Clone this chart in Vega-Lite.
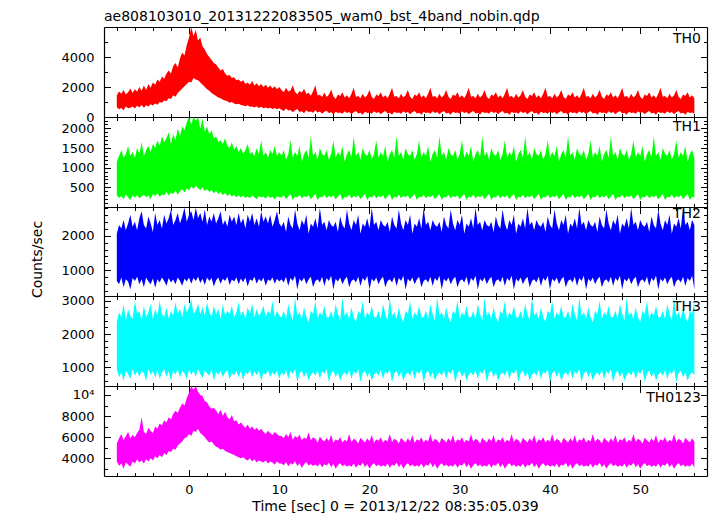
{
"$schema": "https://vega.github.io/schema/vega-lite/v6.json",
"background": "white",
"padding": {"left": 30, "top": 9, "right": 5, "bottom": 3},
"title": {"text": "ae808103010_20131222083505_wam0_bst_4band_nobin.qdp", "anchor": "start", "frame": "group", "offset": 3},
"config": {
 "font": "DejaVu Sans",
 "view": {"stroke": null},
 "title": {"font": "DejaVu Sans", "fontSize": 14, "fontWeight": "normal", "color": "#000"},
 "axis": {"labelFont": "DejaVu Sans", "labelFontSize": 13, "labelColor": "#000", "titleFont": "DejaVu Sans", "titleFontSize": 14, "titleFontWeight": "normal", "titleColor": "#000", "domainColor": "#000", "domainWidth": 1.2, "tickColor": "#000", "tickWidth": 1, "grid": false, "labelOverlap": false, "labelFlush": false}
},
"data": {"values": [
{"t":-8,"l0":650,"h0":1450,"l1":300,"h1":1150,"l2":700,"h2":2050,"l3":950,"h3":2350,"l4":3700,"h4":5400},
{"t":-7.75,"l0":520,"h0":1700,"l1":230,"h1":1300,"l2":600,"h2":2300,"l3":700,"h3":2650,"l4":3300,"h4":5900},
{"t":-7.5,"l0":600,"h0":1550,"l1":280,"h1":1450,"l2":800,"h2":2200,"l3":850,"h3":2500,"l4":3500,"h4":6300},
{"t":-7.25,"l0":450,"h0":1800,"l1":200,"h1":1250,"l2":520,"h2":2450,"l3":600,"h3":2900,"l4":3000,"h4":5700},
{"t":-7,"l0":700,"h0":1500,"l1":320,"h1":1350,"l2":750,"h2":2150,"l3":900,"h3":2400,"l4":3600,"h4":6100},
{"t":-6.75,"l0":580,"h0":1650,"l1":250,"h1":1550,"l2":680,"h2":2350,"l3":800,"h3":2750,"l4":3400,"h4":6500},
{"t":-6.5,"l0":620,"h0":1900,"l1":180,"h1":1300,"l2":450,"h2":2600,"l3":650,"h3":2550,"l4":3200,"h4":5900},
{"t":-6.25,"l0":700,"h0":1600,"l1":290,"h1":1400,"l2":780,"h2":2250,"l3":950,"h3":2450,"l4":3700,"h4":6200},
{"t":-6,"l0":560,"h0":1850,"l1":240,"h1":1250,"l2":700,"h2":2400,"l3":750,"h3":3000,"l4":3500,"h4":6000},
{"t":-5.75,"l0":750,"h0":1700,"l1":300,"h1":1500,"l2":820,"h2":2150,"l3":880,"h3":2600,"l4":3900,"h4":6400},
{"t":-5.5,"l0":640,"h0":2000,"l1":220,"h1":1350,"l2":600,"h2":2500,"l3":720,"h3":2700,"l4":3600,"h4":6700},
{"t":-5.25,"l0":800,"h0":1750,"l1":270,"h1":1650,"l2":750,"h2":2700,"l3":900,"h3":2400,"l4":3800,"h4":7900},
{"t":-5,"l0":620,"h0":2100,"l1":310,"h1":1300,"l2":520,"h2":2300,"l3":820,"h3":2850,"l4":3500,"h4":6500},
{"t":-4.75,"l0":780,"h0":1800,"l1":250,"h1":1450,"l2":800,"h2":2200,"l3":600,"h3":2500,"l4":3900,"h4":6300},
{"t":-4.5,"l0":700,"h0":2200,"l1":290,"h1":1550,"l2":680,"h2":2550,"l3":950,"h3":2650,"l4":3700,"h4":6900},
{"t":-4.25,"l0":850,"h0":1950,"l1":200,"h1":1400,"l2":600,"h2":2350,"l3":780,"h3":2900,"l4":4000,"h4":6600},
{"t":-4,"l0":760,"h0":2300,"l1":330,"h1":1600,"l2":770,"h2":2100,"l3":880,"h3":2450,"l4":3800,"h4":6400},
{"t":-3.75,"l0":900,"h0":2150,"l1":280,"h1":1500,"l2":500,"h2":2650,"l3":700,"h3":2750,"l4":4200,"h4":7000},
{"t":-3.5,"l0":820,"h0":2500,"l1":350,"h1":1700,"l2":750,"h2":2300,"l3":920,"h3":2550,"l4":4000,"h4":6800},
{"t":-3.25,"l0":1000,"h0":2350,"l1":260,"h1":1550,"l2":650,"h2":2450,"l3":650,"h3":3000,"l4":4300,"h4":7300},
{"t":-3,"l0":950,"h0":2700,"l1":320,"h1":1800,"l2":800,"h2":2200,"l3":850,"h3":2600,"l4":4100,"h4":7100},
{"t":-2.75,"l0":1100,"h0":2550,"l1":300,"h1":1650,"l2":700,"h2":2600,"l3":950,"h3":2500,"l4":4500,"h4":7600},
{"t":-2.5,"l0":1050,"h0":2900,"l1":380,"h1":1750,"l2":560,"h2":2350,"l3":720,"h3":2800,"l4":4300,"h4":7400},
{"t":-2.25,"l0":1250,"h0":3100,"l1":290,"h1":1900,"l2":780,"h2":2500,"l3":880,"h3":2450,"l4":4700,"h4":7900},
{"t":-2,"l0":1200,"h0":2900,"l1":360,"h1":1600,"l2":650,"h2":2750,"l3":600,"h3":2700,"l4":4600,"h4":7700},
{"t":-1.75,"l0":1450,"h0":3400,"l1":330,"h1":1850,"l2":740,"h2":2300,"l3":900,"h3":2550,"l4":4900,"h4":8200},
{"t":-1.5,"l0":1350,"h0":3600,"l1":420,"h1":1700,"l2":600,"h2":2450,"l3":780,"h3":2950,"l4":4800,"h4":8500},
{"t":-1.25,"l0":1600,"h0":3300,"l1":310,"h1":2000,"l2":800,"h2":2650,"l3":950,"h3":2600,"l4":5200,"h4":8300},
{"t":-1,"l0":1750,"h0":3900,"l1":400,"h1":1800,"l2":700,"h2":2350,"l3":700,"h3":2750,"l4":5400,"h4":8800},
{"t":-0.75,"l0":1900,"h0":4300,"l1":450,"h1":2050,"l2":560,"h2":2550,"l3":880,"h3":2500,"l4":5600,"h4":9200},
{"t":-0.5,"l0":2050,"h0":4100,"l1":370,"h1":1950,"l2":760,"h2":2800,"l3":820,"h3":2900,"l4":5900,"h4":9000},
{"t":-0.25,"l0":2200,"h0":4800,"l1":480,"h1":2150,"l2":680,"h2":2400,"l3":650,"h3":2650,"l4":6000,"h4":9700},
{"t":0,"l0":2350,"h0":5300,"l1":420,"h1":2290,"l2":800,"h2":2600,"l3":920,"h3":2800,"l4":6300,"h4":10200},
{"t":0.25,"l0":2300,"h0":6000,"l1":520,"h1":2100,"l2":620,"h2":2700,"l3":780,"h3":3050,"l4":6100,"h4":10850},
{"t":0.5,"l0":2600,"h0":5400,"l1":460,"h1":2290,"l2":780,"h2":2450,"l3":900,"h3":2600,"l4":6600,"h4":10500},
{"t":0.75,"l0":2500,"h0":5800,"l1":550,"h1":2200,"l2":700,"h2":2800,"l3":720,"h3":2700,"l4":6500,"h4":10850},
{"t":1,"l0":2450,"h0":5100,"l1":480,"h1":2290,"l2":820,"h2":2500,"l3":950,"h3":2900,"l4":6800,"h4":10300},
{"t":1.25,"l0":2300,"h0":5300,"l1":430,"h1":2000,"l2":640,"h2":2650,"l3":800,"h3":2600,"l4":6400,"h4":10000},
{"t":1.5,"l0":2150,"h0":4700,"l1":500,"h1":2250,"l2":760,"h2":2400,"l3":680,"h3":2800,"l4":6200,"h4":9900},
{"t":1.75,"l0":2000,"h0":4500,"l1":400,"h1":1900,"l2":580,"h2":2750,"l3":900,"h3":2550,"l4":6000,"h4":9400},
{"t":2,"l0":1850,"h0":4200,"l1":460,"h1":2050,"l2":800,"h2":2300,"l3":820,"h3":2950,"l4":5700,"h4":9300},
{"t":2.25,"l0":1750,"h0":4000,"l1":380,"h1":1850,"l2":700,"h2":2550,"l3":740,"h3":2650,"l4":5500,"h4":8900},
{"t":2.5,"l0":1600,"h0":3800,"l1":430,"h1":1950,"l2":780,"h2":2400,"l3":950,"h3":2500,"l4":5600,"h4":8700},
{"t":2.75,"l0":1500,"h0":3600,"l1":350,"h1":1750,"l2":540,"h2":2650,"l3":600,"h3":2850,"l4":5300,"h4":8800},
{"t":3,"l0":1400,"h0":3500,"l1":410,"h1":1800,"l2":720,"h2":2350,"l3":860,"h3":2600,"l4":5100,"h4":8500},
{"t":3.25,"l0":1300,"h0":3300,"l1":330,"h1":1650,"l2":800,"h2":2500,"l3":780,"h3":2750,"l4":5000,"h4":8200},
{"t":3.5,"l0":1250,"h0":3100,"l1":380,"h1":1700,"l2":620,"h2":2700,"l3":900,"h3":2450,"l4":4800,"h4":8600},
{"t":3.75,"l0":1150,"h0":3200,"l1":300,"h1":1600,"l2":760,"h2":2300,"l3":700,"h3":2900,"l4":4900,"h4":8000},
{"t":4,"l0":1100,"h0":2900,"l1":360,"h1":1750,"l2":700,"h2":2450,"l3":850,"h3":2550,"l4":4700,"h4":8400},
{"t":4.25,"l0":1050,"h0":2750,"l1":280,"h1":1550,"l2":820,"h2":2250,"l3":920,"h3":2700,"l4":4600,"h4":7900},
{"t":4.5,"l0":950,"h0":2800,"l1":330,"h1":1500,"l2":580,"h2":2600,"l3":640,"h3":2600,"l4":4500,"h4":7700},
{"t":4.75,"l0":1000,"h0":2600,"l1":270,"h1":1650,"l2":740,"h2":2400,"l3":820,"h3":2850,"l4":4400,"h4":8100},
{"t":5,"l0":900,"h0":2650,"l1":310,"h1":1450,"l2":680,"h2":2550,"l3":760,"h3":2500,"l4":4300,"h4":7500},
{"t":5.25,"l0":850,"h0":2450,"l1":250,"h1":1550,"l2":800,"h2":2300,"l3":900,"h3":2650,"l4":4200,"h4":7600},
{"t":5.5,"l0":880,"h0":2500,"l1":300,"h1":1400,"l2":600,"h2":2650,"l3":700,"h3":2950,"l4":4100,"h4":7200},
{"t":5.75,"l0":800,"h0":2350,"l1":240,"h1":1500,"l2":770,"h2":2350,"l3":880,"h3":2550,"l4":4000,"h4":7400},
{"t":6,"l0":760,"h0":2450,"l1":290,"h1":1350,"l2":660,"h2":2500,"l3":620,"h3":2700,"l4":4100,"h4":7100},
{"t":6.25,"l0":720,"h0":2200,"l1":230,"h1":1450,"l2":800,"h2":2200,"l3":850,"h3":2450,"l4":3900,"h4":6900},
{"t":6.5,"l0":780,"h0":2300,"l1":270,"h1":1600,"l2":540,"h2":2600,"l3":790,"h3":2800,"l4":3800,"h4":7200},
{"t":6.75,"l0":680,"h0":2150,"l1":220,"h1":1350,"l2":750,"h2":2400,"l3":930,"h3":2600,"l4":4000,"h4":6800},
{"t":7,"l0":700,"h0":2400,"l1":300,"h1":1400,"l2":700,"h2":2650,"l3":700,"h3":2900,"l4":3700,"h4":7000},
{"t":7.25,"l0":640,"h0":2100,"l1":250,"h1":1300,"l2":820,"h2":2300,"l3":880,"h3":2500,"l4":3900,"h4":6700},
{"t":7.5,"l0":720,"h0":2250,"l1":200,"h1":1500,"l2":620,"h2":2500,"l3":760,"h3":2750,"l4":3600,"h4":6900},
{"t":7.75,"l0":600,"h0":2050,"l1":280,"h1":1350,"l2":760,"h2":2250,"l3":900,"h3":2550,"l4":3800,"h4":6600},
{"t":8,"l0":680,"h0":2200,"l1":240,"h1":1700,"l2":680,"h2":2700,"l3":600,"h3":2650,"l4":3700,"h4":6800},
{"t":8.25,"l0":580,"h0":2000,"l1":270,"h1":1300,"l2":800,"h2":2400,"l3":840,"h3":2850,"l4":3600,"h4":6500},
{"t":8.5,"l0":640,"h0":2150,"l1":210,"h1":1400,"l2":560,"h2":2550,"l3":780,"h3":2500,"l4":3800,"h4":6300},
{"t":8.75,"l0":560,"h0":1950,"l1":290,"h1":1250,"l2":740,"h2":2350,"l3":920,"h3":2700,"l4":3500,"h4":6600},
{"t":9,"l0":620,"h0":2100,"l1":230,"h1":1450,"l2":700,"h2":2600,"l3":700,"h3":2600,"l4":3700,"h4":6400},
{"t":9.25,"l0":540,"h0":1900,"l1":260,"h1":1350,"l2":800,"h2":2250,"l3":860,"h3":3000,"l4":3600,"h4":6200},
{"t":9.5,"l0":600,"h0":2050,"l1":190,"h1":1550,"l2":620,"h2":2450,"l3":760,"h3":2500,"l4":3400,"h4":6500},
{"t":9.75,"l0":520,"h0":1850,"l1":280,"h1":1300,"l2":760,"h2":2700,"l3":900,"h3":2700,"l4":3700,"h4":6300},
{"t":10,"l0":580,"h0":2000,"l1":240,"h1":1400,"l2":680,"h2":2350,"l3":650,"h3":2550,"l4":3500,"h4":6100},
{"t":10.25,"l0":480,"h0":1800,"l1":250,"h1":1300,"l2":750,"h2":2250,"l3":850,"h3":2500,"l4":3500,"h4":6100},
{"t":10.5,"l0":400,"h0":1650,"l1":300,"h1":1450,"l2":650,"h2":2400,"l3":750,"h3":2700,"l4":3350,"h4":5900},
{"t":10.75,"l0":560,"h0":1950,"l1":200,"h1":1200,"l2":820,"h2":2100,"l3":920,"h3":2450,"l4":3650,"h4":6300},
{"t":11,"l0":440,"h0":1700,"l1":270,"h1":1350,"l2":550,"h2":2550,"l3":650,"h3":2900,"l4":3250,"h4":6000},
{"t":11.25,"l0":470,"h0":1770,"l1":330,"h1":1700,"l2":780,"h2":2300,"l3":880,"h3":2600,"l4":3520,"h4":6500},
{"t":11.5,"l0":320,"h0":2120,"l1":180,"h1":1250,"l2":700,"h2":2200,"l3":800,"h3":2400,"l4":3420,"h4":5750},
{"t":11.75,"l0":450,"h0":1670,"l1":260,"h1":1400,"l2":850,"h2":2750,"l3":950,"h3":3100,"l4":3720,"h4":6100},
{"t":12,"l0":540,"h0":1520,"l1":240,"h1":1300,"l2":450,"h2":2350,"l3":550,"h3":2550,"l4":3270,"h4":5950},
{"t":12.25,"l0":340,"h0":1740,"l1":310,"h1":1550,"l2":760,"h2":2150,"l3":820,"h3":2650,"l4":3540,"h4":6220},
{"t":12.5,"l0":390,"h0":1640,"l1":220,"h1":1150,"l2":680,"h2":2450,"l3":900,"h3":2450,"l4":3090,"h4":5720},
{"t":12.75,"l0":250,"h0":1890,"l1":280,"h1":1350,"l2":800,"h2":2300,"l3":700,"h3":2800,"l4":3440,"h4":5970},
{"t":13,"l0":450,"h0":1540,"l1":250,"h1":1450,"l2":600,"h2":2600,"l3":860,"h3":2500,"l4":3640,"h4":5820},
{"t":13.25,"l0":340,"h0":1610,"l1":300,"h1":1250,"l2":740,"h2":2050,"l3":600,"h3":2350,"l4":3310,"h4":6450},
{"t":13.5,"l0":370,"h0":1410,"l1":200,"h1":1800,"l2":820,"h2":2350,"l3":780,"h3":2700,"l4":3460,"h4":5700},
{"t":13.75,"l0":290,"h0":1710,"l1":270,"h1":1300,"l2":520,"h2":2250,"l3":850,"h3":2600,"l4":3260,"h4":6000},
{"t":14,"l0":450,"h0":2110,"l1":330,"h1":1400,"l2":700,"h2":2500,"l3":750,"h3":3000,"l4":3410,"h4":5850},
{"t":14.25,"l0":300,"h0":1430,"l1":180,"h1":1200,"l2":750,"h2":2200,"l3":920,"h3":2450,"l4":3230,"h4":5480},
{"t":14.5,"l0":370,"h0":1480,"l1":260,"h1":1500,"l2":650,"h2":2800,"l3":650,"h3":2650,"l4":3530,"h4":6030},
{"t":14.75,"l0":220,"h0":1330,"l1":240,"h1":1350,"l2":820,"h2":2300,"l3":880,"h3":2550,"l4":3130,"h4":5780},
{"t":15,"l0":350,"h0":1630,"l1":310,"h1":1300,"l2":550,"h2":2400,"l3":800,"h3":2850,"l4":3430,"h4":5580},
{"t":15.25,"l0":420,"h0":1340,"l1":220,"h1":1450,"l2":780,"h2":2150,"l3":950,"h3":2500,"l4":3310,"h4":5930},
{"t":15.5,"l0":260,"h0":1490,"l1":280,"h1":1200,"l2":700,"h2":2450,"l3":550,"h3":2500,"l4":3610,"h4":5630},
{"t":15.75,"l0":310,"h0":1840,"l1":250,"h1":1350,"l2":850,"h2":2300,"l3":820,"h3":2700,"l4":3160,"h4":6230},
{"t":16,"l0":170,"h0":1390,"l1":300,"h1":1700,"l2":450,"h2":2250,"l3":900,"h3":2450,"l4":3460,"h4":5480},
{"t":16.25,"l0":350,"h0":1200,"l1":200,"h1":1250,"l2":760,"h2":2400,"l3":700,"h3":2900,"l4":3000,"h4":5800},
{"t":16.5,"l0":270,"h0":1500,"l1":270,"h1":1400,"l2":680,"h2":2100,"l3":860,"h3":2600,"l4":3350,"h4":5650},
{"t":16.75,"l0":300,"h0":1400,"l1":330,"h1":1300,"l2":800,"h2":2550,"l3":600,"h3":2400,"l4":3550,"h4":6000},
{"t":17,"l0":220,"h0":1650,"l1":180,"h1":1550,"l2":600,"h2":2300,"l3":780,"h3":3100,"l4":3250,"h4":5500},
{"t":17.25,"l0":380,"h0":1300,"l1":260,"h1":1150,"l2":740,"h2":2200,"l3":850,"h3":2550,"l4":3400,"h4":5750},
{"t":17.5,"l0":260,"h0":1450,"l1":240,"h1":1350,"l2":820,"h2":2750,"l3":750,"h3":2650,"l4":3200,"h4":5600},
{"t":17.75,"l0":330,"h0":1250,"l1":310,"h1":1450,"l2":520,"h2":2350,"l3":920,"h3":2450,"l4":3350,"h4":6300},
{"t":18,"l0":180,"h0":1550,"l1":220,"h1":1250,"l2":700,"h2":2150,"l3":650,"h3":2800,"l4":3200,"h4":5550},
{"t":18.25,"l0":310,"h0":1950,"l1":280,"h1":1800,"l2":750,"h2":2450,"l3":880,"h3":2500,"l4":3500,"h4":5850},
{"t":18.5,"l0":400,"h0":1350,"l1":250,"h1":1300,"l2":650,"h2":2300,"l3":800,"h3":2350,"l4":3100,"h4":5700},
{"t":18.75,"l0":240,"h0":1400,"l1":300,"h1":1400,"l2":820,"h2":2600,"l3":950,"h3":2700,"l4":3400,"h4":5400},
{"t":19,"l0":290,"h0":1250,"l1":200,"h1":1200,"l2":550,"h2":2050,"l3":550,"h3":2600,"l4":3300,"h4":5950},
{"t":19.25,"l0":150,"h0":1550,"l1":270,"h1":1500,"l2":780,"h2":2350,"l3":820,"h3":3000,"l4":3600,"h4":5700},
{"t":19.5,"l0":350,"h0":1300,"l1":330,"h1":1350,"l2":700,"h2":2250,"l3":900,"h3":2450,"l4":3150,"h4":5500},
{"t":19.75,"l0":270,"h0":1450,"l1":180,"h1":1300,"l2":850,"h2":2500,"l3":700,"h3":2650,"l4":3450,"h4":5900},
{"t":20,"l0":300,"h0":1800,"l1":260,"h1":1450,"l2":450,"h2":2200,"l3":860,"h3":2550,"l4":3000,"h4":5600},
{"t":20.25,"l0":220,"h0":1350,"l1":240,"h1":1200,"l2":760,"h2":2800,"l3":600,"h3":2850,"l4":3350,"h4":6200},
{"t":20.5,"l0":380,"h0":1200,"l1":310,"h1":1350,"l2":680,"h2":2300,"l3":780,"h3":2500,"l4":3550,"h4":5450},
{"t":20.75,"l0":260,"h0":1500,"l1":220,"h1":1700,"l2":800,"h2":2400,"l3":850,"h3":2500,"l4":3250,"h4":5800},
{"t":21,"l0":330,"h0":1400,"l1":280,"h1":1250,"l2":600,"h2":2150,"l3":750,"h3":2700,"l4":3400,"h4":5650},
{"t":21.25,"l0":180,"h0":1650,"l1":250,"h1":1400,"l2":740,"h2":2450,"l3":920,"h3":2450,"l4":3200,"h4":6000},
{"t":21.5,"l0":310,"h0":1300,"l1":300,"h1":1300,"l2":820,"h2":2300,"l3":650,"h3":2900,"l4":3350,"h4":5500},
{"t":21.75,"l0":400,"h0":1450,"l1":200,"h1":1550,"l2":520,"h2":2250,"l3":880,"h3":2600,"l4":3200,"h4":5750},
{"t":22,"l0":240,"h0":1250,"l1":270,"h1":1150,"l2":700,"h2":2400,"l3":800,"h3":2400,"l4":3500,"h4":5600},
{"t":22.25,"l0":290,"h0":1550,"l1":330,"h1":1350,"l2":750,"h2":2100,"l3":950,"h3":3100,"l4":3100,"h4":6300},
{"t":22.5,"l0":150,"h0":1950,"l1":180,"h1":1450,"l2":650,"h2":2550,"l3":550,"h3":2550,"l4":3400,"h4":5550},
{"t":22.75,"l0":350,"h0":1350,"l1":260,"h1":1250,"l2":820,"h2":2300,"l3":820,"h3":2650,"l4":3300,"h4":5850},
{"t":23,"l0":270,"h0":1400,"l1":240,"h1":1800,"l2":550,"h2":2200,"l3":900,"h3":2450,"l4":3600,"h4":5700},
{"t":23.25,"l0":300,"h0":1250,"l1":310,"h1":1300,"l2":780,"h2":2750,"l3":700,"h3":2800,"l4":3150,"h4":5400},
{"t":23.5,"l0":220,"h0":1550,"l1":220,"h1":1400,"l2":700,"h2":2350,"l3":860,"h3":2500,"l4":3450,"h4":5950},
{"t":23.75,"l0":380,"h0":1300,"l1":280,"h1":1200,"l2":850,"h2":2150,"l3":600,"h3":2350,"l4":3000,"h4":5700},
{"t":24,"l0":260,"h0":1450,"l1":250,"h1":1500,"l2":450,"h2":2450,"l3":780,"h3":2700,"l4":3350,"h4":5500},
{"t":24.25,"l0":330,"h0":1800,"l1":300,"h1":1350,"l2":760,"h2":2300,"l3":850,"h3":2600,"l4":3550,"h4":5900},
{"t":24.5,"l0":180,"h0":1350,"l1":200,"h1":1300,"l2":680,"h2":2600,"l3":750,"h3":3000,"l4":3250,"h4":5600},
{"t":24.75,"l0":310,"h0":1200,"l1":270,"h1":1450,"l2":800,"h2":2050,"l3":920,"h3":2450,"l4":3400,"h4":6200},
{"t":25,"l0":400,"h0":1500,"l1":330,"h1":1200,"l2":600,"h2":2350,"l3":650,"h3":2650,"l4":3200,"h4":5450},
{"t":25.25,"l0":240,"h0":1400,"l1":180,"h1":1350,"l2":740,"h2":2250,"l3":880,"h3":2550,"l4":3350,"h4":5800},
{"t":25.5,"l0":290,"h0":1650,"l1":260,"h1":1700,"l2":820,"h2":2500,"l3":800,"h3":2850,"l4":3200,"h4":5650},
{"t":25.75,"l0":150,"h0":1300,"l1":240,"h1":1250,"l2":520,"h2":2200,"l3":950,"h3":2500,"l4":3500,"h4":6000},
{"t":26,"l0":350,"h0":1450,"l1":310,"h1":1400,"l2":700,"h2":2800,"l3":550,"h3":2500,"l4":3100,"h4":5500},
{"t":26.25,"l0":270,"h0":1250,"l1":220,"h1":1300,"l2":750,"h2":2300,"l3":820,"h3":2700,"l4":3400,"h4":5750},
{"t":26.5,"l0":300,"h0":1550,"l1":280,"h1":1550,"l2":650,"h2":2400,"l3":900,"h3":2450,"l4":3300,"h4":5600},
{"t":26.75,"l0":220,"h0":1950,"l1":250,"h1":1150,"l2":820,"h2":2150,"l3":700,"h3":2900,"l4":3600,"h4":6300},
{"t":27,"l0":380,"h0":1350,"l1":300,"h1":1350,"l2":550,"h2":2450,"l3":860,"h3":2600,"l4":3150,"h4":5550},
{"t":27.25,"l0":260,"h0":1400,"l1":200,"h1":1450,"l2":780,"h2":2300,"l3":600,"h3":2400,"l4":3450,"h4":5850},
{"t":27.5,"l0":330,"h0":1250,"l1":270,"h1":1250,"l2":700,"h2":2250,"l3":780,"h3":3100,"l4":3000,"h4":5700},
{"t":27.75,"l0":180,"h0":1550,"l1":330,"h1":1800,"l2":850,"h2":2400,"l3":850,"h3":2550,"l4":3350,"h4":5400},
{"t":28,"l0":310,"h0":1300,"l1":180,"h1":1300,"l2":450,"h2":2100,"l3":750,"h3":2650,"l4":3550,"h4":5950},
{"t":28.25,"l0":400,"h0":1450,"l1":260,"h1":1400,"l2":760,"h2":2550,"l3":920,"h3":2450,"l4":3250,"h4":5700},
{"t":28.5,"l0":240,"h0":1800,"l1":240,"h1":1200,"l2":680,"h2":2300,"l3":650,"h3":2800,"l4":3400,"h4":5500},
{"t":28.75,"l0":290,"h0":1350,"l1":310,"h1":1500,"l2":800,"h2":2200,"l3":880,"h3":2500,"l4":3200,"h4":5900},
{"t":29,"l0":150,"h0":1200,"l1":220,"h1":1350,"l2":600,"h2":2750,"l3":800,"h3":2350,"l4":3350,"h4":5600},
{"t":29.25,"l0":350,"h0":1500,"l1":280,"h1":1300,"l2":740,"h2":2350,"l3":950,"h3":2700,"l4":3200,"h4":6200},
{"t":29.5,"l0":270,"h0":1400,"l1":250,"h1":1450,"l2":820,"h2":2150,"l3":550,"h3":2600,"l4":3500,"h4":5450},
{"t":29.75,"l0":300,"h0":1650,"l1":300,"h1":1200,"l2":520,"h2":2450,"l3":820,"h3":3000,"l4":3100,"h4":5800},
{"t":30,"l0":220,"h0":1300,"l1":200,"h1":1350,"l2":700,"h2":2300,"l3":900,"h3":2450,"l4":3400,"h4":5650},
{"t":30.25,"l0":380,"h0":1450,"l1":270,"h1":1700,"l2":750,"h2":2600,"l3":700,"h3":2650,"l4":3300,"h4":6000},
{"t":30.5,"l0":260,"h0":1250,"l1":330,"h1":1250,"l2":650,"h2":2050,"l3":860,"h3":2550,"l4":3600,"h4":5500},
{"t":30.75,"l0":330,"h0":1550,"l1":180,"h1":1400,"l2":820,"h2":2350,"l3":600,"h3":2850,"l4":3150,"h4":5750},
{"t":31,"l0":180,"h0":1950,"l1":260,"h1":1300,"l2":550,"h2":2250,"l3":780,"h3":2500,"l4":3450,"h4":5600},
{"t":31.25,"l0":310,"h0":1350,"l1":240,"h1":1550,"l2":780,"h2":2500,"l3":850,"h3":2500,"l4":3000,"h4":6300},
{"t":31.5,"l0":400,"h0":1400,"l1":310,"h1":1150,"l2":700,"h2":2200,"l3":750,"h3":2700,"l4":3350,"h4":5550},
{"t":31.75,"l0":240,"h0":1250,"l1":220,"h1":1350,"l2":850,"h2":2800,"l3":920,"h3":2450,"l4":3550,"h4":5850},
{"t":32,"l0":290,"h0":1550,"l1":280,"h1":1450,"l2":450,"h2":2300,"l3":650,"h3":2900,"l4":3250,"h4":5700},
{"t":32.25,"l0":150,"h0":1300,"l1":250,"h1":1250,"l2":760,"h2":2400,"l3":880,"h3":2600,"l4":3400,"h4":5400},
{"t":32.5,"l0":350,"h0":1450,"l1":300,"h1":1800,"l2":680,"h2":2150,"l3":800,"h3":2400,"l4":3200,"h4":5950},
{"t":32.75,"l0":270,"h0":1800,"l1":200,"h1":1300,"l2":800,"h2":2450,"l3":950,"h3":3100,"l4":3350,"h4":5700},
{"t":33,"l0":300,"h0":1350,"l1":270,"h1":1400,"l2":600,"h2":2300,"l3":550,"h3":2550,"l4":3200,"h4":5500},
{"t":33.25,"l0":220,"h0":1200,"l1":330,"h1":1200,"l2":740,"h2":2250,"l3":820,"h3":2650,"l4":3500,"h4":5900},
{"t":33.5,"l0":380,"h0":1500,"l1":180,"h1":1500,"l2":820,"h2":2400,"l3":900,"h3":2450,"l4":3100,"h4":5600},
{"t":33.75,"l0":260,"h0":1400,"l1":260,"h1":1350,"l2":520,"h2":2100,"l3":700,"h3":2800,"l4":3400,"h4":6200},
{"t":34,"l0":330,"h0":1650,"l1":240,"h1":1300,"l2":700,"h2":2550,"l3":860,"h3":2500,"l4":3300,"h4":5450},
{"t":34.25,"l0":180,"h0":1300,"l1":310,"h1":1450,"l2":750,"h2":2300,"l3":600,"h3":2350,"l4":3600,"h4":5800},
{"t":34.5,"l0":310,"h0":1450,"l1":220,"h1":1200,"l2":650,"h2":2200,"l3":780,"h3":2700,"l4":3150,"h4":5650},
{"t":34.75,"l0":400,"h0":1250,"l1":280,"h1":1350,"l2":820,"h2":2750,"l3":850,"h3":2600,"l4":3450,"h4":6000},
{"t":35,"l0":240,"h0":1550,"l1":250,"h1":1700,"l2":550,"h2":2350,"l3":750,"h3":3000,"l4":3000,"h4":5500},
{"t":35.25,"l0":290,"h0":1950,"l1":300,"h1":1250,"l2":780,"h2":2150,"l3":920,"h3":2450,"l4":3350,"h4":5750},
{"t":35.5,"l0":150,"h0":1350,"l1":200,"h1":1400,"l2":700,"h2":2450,"l3":650,"h3":2650,"l4":3550,"h4":5600},
{"t":35.75,"l0":350,"h0":1400,"l1":270,"h1":1300,"l2":850,"h2":2300,"l3":880,"h3":2550,"l4":3250,"h4":6300},
{"t":36,"l0":270,"h0":1250,"l1":330,"h1":1550,"l2":450,"h2":2600,"l3":800,"h3":2850,"l4":3400,"h4":5550},
{"t":36.25,"l0":300,"h0":1550,"l1":180,"h1":1150,"l2":760,"h2":2050,"l3":950,"h3":2500,"l4":3200,"h4":5850},
{"t":36.5,"l0":220,"h0":1300,"l1":260,"h1":1350,"l2":680,"h2":2350,"l3":550,"h3":2500,"l4":3350,"h4":5700},
{"t":36.75,"l0":380,"h0":1450,"l1":240,"h1":1450,"l2":800,"h2":2250,"l3":820,"h3":2700,"l4":3200,"h4":5400},
{"t":37,"l0":260,"h0":1800,"l1":310,"h1":1250,"l2":600,"h2":2500,"l3":900,"h3":2450,"l4":3500,"h4":5950},
{"t":37.25,"l0":330,"h0":1350,"l1":220,"h1":1800,"l2":740,"h2":2200,"l3":700,"h3":2900,"l4":3100,"h4":5700},
{"t":37.5,"l0":180,"h0":1200,"l1":280,"h1":1300,"l2":820,"h2":2800,"l3":860,"h3":2600,"l4":3400,"h4":5500},
{"t":37.75,"l0":310,"h0":1500,"l1":250,"h1":1400,"l2":520,"h2":2300,"l3":600,"h3":2400,"l4":3300,"h4":5900},
{"t":38,"l0":400,"h0":1400,"l1":300,"h1":1200,"l2":700,"h2":2400,"l3":780,"h3":3100,"l4":3600,"h4":5600},
{"t":38.25,"l0":240,"h0":1650,"l1":200,"h1":1500,"l2":750,"h2":2150,"l3":850,"h3":2550,"l4":3150,"h4":6200},
{"t":38.5,"l0":290,"h0":1300,"l1":270,"h1":1350,"l2":650,"h2":2450,"l3":750,"h3":2650,"l4":3450,"h4":5450},
{"t":38.75,"l0":150,"h0":1450,"l1":330,"h1":1300,"l2":820,"h2":2300,"l3":920,"h3":2450,"l4":3000,"h4":5800},
{"t":39,"l0":350,"h0":1250,"l1":180,"h1":1450,"l2":550,"h2":2250,"l3":650,"h3":2800,"l4":3350,"h4":5650},
{"t":39.25,"l0":270,"h0":1550,"l1":260,"h1":1200,"l2":780,"h2":2400,"l3":880,"h3":2500,"l4":3550,"h4":6000},
{"t":39.5,"l0":300,"h0":1950,"l1":240,"h1":1350,"l2":700,"h2":2100,"l3":800,"h3":2350,"l4":3250,"h4":5500},
{"t":39.75,"l0":220,"h0":1350,"l1":310,"h1":1700,"l2":850,"h2":2550,"l3":950,"h3":2700,"l4":3400,"h4":5750},
{"t":40,"l0":380,"h0":1400,"l1":220,"h1":1250,"l2":450,"h2":2300,"l3":550,"h3":2600,"l4":3200,"h4":5600},
{"t":40.25,"l0":260,"h0":1250,"l1":280,"h1":1400,"l2":760,"h2":2200,"l3":820,"h3":3000,"l4":3350,"h4":6300},
{"t":40.5,"l0":330,"h0":1550,"l1":250,"h1":1300,"l2":680,"h2":2750,"l3":900,"h3":2450,"l4":3200,"h4":5550},
{"t":40.75,"l0":180,"h0":1300,"l1":300,"h1":1550,"l2":800,"h2":2350,"l3":700,"h3":2650,"l4":3500,"h4":5850},
{"t":41,"l0":310,"h0":1450,"l1":200,"h1":1150,"l2":600,"h2":2150,"l3":860,"h3":2550,"l4":3100,"h4":5700},
{"t":41.25,"l0":400,"h0":1800,"l1":270,"h1":1350,"l2":740,"h2":2450,"l3":600,"h3":2850,"l4":3400,"h4":5400},
{"t":41.5,"l0":240,"h0":1350,"l1":330,"h1":1450,"l2":820,"h2":2300,"l3":780,"h3":2500,"l4":3300,"h4":5950},
{"t":41.75,"l0":290,"h0":1200,"l1":180,"h1":1250,"l2":520,"h2":2600,"l3":850,"h3":2500,"l4":3600,"h4":5700},
{"t":42,"l0":150,"h0":1500,"l1":260,"h1":1800,"l2":700,"h2":2050,"l3":750,"h3":2700,"l4":3150,"h4":5500},
{"t":42.25,"l0":350,"h0":1400,"l1":240,"h1":1300,"l2":750,"h2":2350,"l3":920,"h3":2450,"l4":3450,"h4":5900},
{"t":42.5,"l0":270,"h0":1650,"l1":310,"h1":1400,"l2":650,"h2":2250,"l3":650,"h3":2900,"l4":3000,"h4":5600},
{"t":42.75,"l0":300,"h0":1300,"l1":220,"h1":1200,"l2":820,"h2":2500,"l3":880,"h3":2600,"l4":3350,"h4":6200},
{"t":43,"l0":220,"h0":1450,"l1":280,"h1":1500,"l2":550,"h2":2200,"l3":800,"h3":2400,"l4":3550,"h4":5450},
{"t":43.25,"l0":380,"h0":1250,"l1":250,"h1":1350,"l2":780,"h2":2800,"l3":950,"h3":3100,"l4":3250,"h4":5800},
{"t":43.5,"l0":260,"h0":1550,"l1":300,"h1":1300,"l2":700,"h2":2300,"l3":550,"h3":2550,"l4":3400,"h4":5650},
{"t":43.75,"l0":330,"h0":1950,"l1":200,"h1":1450,"l2":850,"h2":2400,"l3":820,"h3":2650,"l4":3200,"h4":6000},
{"t":44,"l0":180,"h0":1350,"l1":270,"h1":1200,"l2":450,"h2":2150,"l3":900,"h3":2450,"l4":3350,"h4":5500},
{"t":44.25,"l0":310,"h0":1400,"l1":330,"h1":1350,"l2":760,"h2":2450,"l3":700,"h3":2800,"l4":3200,"h4":5750},
{"t":44.5,"l0":400,"h0":1250,"l1":180,"h1":1700,"l2":680,"h2":2300,"l3":860,"h3":2500,"l4":3500,"h4":5600},
{"t":44.75,"l0":240,"h0":1550,"l1":260,"h1":1250,"l2":800,"h2":2250,"l3":600,"h3":2350,"l4":3100,"h4":6300},
{"t":45,"l0":290,"h0":1300,"l1":240,"h1":1400,"l2":600,"h2":2400,"l3":780,"h3":2700,"l4":3400,"h4":5550},
{"t":45.25,"l0":150,"h0":1450,"l1":310,"h1":1300,"l2":740,"h2":2100,"l3":850,"h3":2600,"l4":3300,"h4":5850},
{"t":45.5,"l0":350,"h0":1800,"l1":220,"h1":1550,"l2":820,"h2":2550,"l3":750,"h3":3000,"l4":3600,"h4":5700},
{"t":45.75,"l0":270,"h0":1350,"l1":280,"h1":1150,"l2":520,"h2":2300,"l3":920,"h3":2450,"l4":3150,"h4":5400},
{"t":46,"l0":300,"h0":1200,"l1":250,"h1":1350,"l2":700,"h2":2200,"l3":650,"h3":2650,"l4":3450,"h4":5950},
{"t":46.25,"l0":220,"h0":1500,"l1":300,"h1":1450,"l2":750,"h2":2750,"l3":880,"h3":2550,"l4":3000,"h4":5700},
{"t":46.5,"l0":380,"h0":1400,"l1":200,"h1":1250,"l2":650,"h2":2350,"l3":800,"h3":2850,"l4":3350,"h4":5500},
{"t":46.75,"l0":260,"h0":1650,"l1":270,"h1":1800,"l2":820,"h2":2150,"l3":950,"h3":2500,"l4":3550,"h4":5900},
{"t":47,"l0":330,"h0":1300,"l1":330,"h1":1300,"l2":550,"h2":2450,"l3":550,"h3":2500,"l4":3250,"h4":5600},
{"t":47.25,"l0":180,"h0":1450,"l1":180,"h1":1400,"l2":780,"h2":2300,"l3":820,"h3":2700,"l4":3400,"h4":6200},
{"t":47.5,"l0":310,"h0":1250,"l1":260,"h1":1200,"l2":700,"h2":2600,"l3":900,"h3":2450,"l4":3200,"h4":5450},
{"t":47.75,"l0":400,"h0":1550,"l1":240,"h1":1500,"l2":850,"h2":2050,"l3":700,"h3":2900,"l4":3350,"h4":5800},
{"t":48,"l0":240,"h0":1950,"l1":310,"h1":1350,"l2":450,"h2":2350,"l3":860,"h3":2600,"l4":3200,"h4":5650},
{"t":48.25,"l0":290,"h0":1350,"l1":220,"h1":1300,"l2":760,"h2":2250,"l3":600,"h3":2400,"l4":3500,"h4":6000},
{"t":48.5,"l0":150,"h0":1400,"l1":280,"h1":1450,"l2":680,"h2":2500,"l3":780,"h3":3100,"l4":3100,"h4":5500},
{"t":48.75,"l0":350,"h0":1250,"l1":250,"h1":1200,"l2":800,"h2":2200,"l3":850,"h3":2550,"l4":3400,"h4":5750},
{"t":49,"l0":270,"h0":1550,"l1":300,"h1":1350,"l2":600,"h2":2800,"l3":750,"h3":2650,"l4":3300,"h4":5600},
{"t":49.25,"l0":300,"h0":1300,"l1":200,"h1":1700,"l2":740,"h2":2300,"l3":920,"h3":2450,"l4":3600,"h4":6300},
{"t":49.5,"l0":220,"h0":1450,"l1":270,"h1":1250,"l2":820,"h2":2400,"l3":650,"h3":2800,"l4":3150,"h4":5550},
{"t":49.75,"l0":380,"h0":1800,"l1":330,"h1":1400,"l2":520,"h2":2150,"l3":880,"h3":2500,"l4":3450,"h4":5850},
{"t":50,"l0":260,"h0":1350,"l1":180,"h1":1300,"l2":700,"h2":2450,"l3":800,"h3":2350,"l4":3000,"h4":5700},
{"t":50.25,"l0":330,"h0":1200,"l1":260,"h1":1550,"l2":750,"h2":2300,"l3":950,"h3":2700,"l4":3350,"h4":5400},
{"t":50.5,"l0":180,"h0":1500,"l1":240,"h1":1150,"l2":650,"h2":2250,"l3":550,"h3":2600,"l4":3550,"h4":5950},
{"t":50.75,"l0":310,"h0":1400,"l1":310,"h1":1350,"l2":820,"h2":2400,"l3":820,"h3":3000,"l4":3250,"h4":5700},
{"t":51,"l0":400,"h0":1650,"l1":220,"h1":1450,"l2":550,"h2":2100,"l3":900,"h3":2450,"l4":3400,"h4":5500},
{"t":51.25,"l0":240,"h0":1300,"l1":280,"h1":1250,"l2":780,"h2":2550,"l3":700,"h3":2650,"l4":3200,"h4":5900},
{"t":51.5,"l0":290,"h0":1450,"l1":250,"h1":1800,"l2":700,"h2":2300,"l3":860,"h3":2550,"l4":3350,"h4":5600},
{"t":51.75,"l0":150,"h0":1250,"l1":300,"h1":1300,"l2":850,"h2":2200,"l3":600,"h3":2850,"l4":3200,"h4":6200},
{"t":52,"l0":350,"h0":1550,"l1":200,"h1":1400,"l2":450,"h2":2750,"l3":780,"h3":2500,"l4":3500,"h4":5450},
{"t":52.25,"l0":270,"h0":1950,"l1":270,"h1":1200,"l2":760,"h2":2350,"l3":850,"h3":2500,"l4":3100,"h4":5800},
{"t":52.5,"l0":300,"h0":1350,"l1":330,"h1":1500,"l2":680,"h2":2150,"l3":750,"h3":2700,"l4":3400,"h4":5650},
{"t":52.75,"l0":220,"h0":1400,"l1":180,"h1":1350,"l2":800,"h2":2450,"l3":920,"h3":2450,"l4":3300,"h4":6000},
{"t":53,"l0":380,"h0":1250,"l1":260,"h1":1300,"l2":600,"h2":2300,"l3":650,"h3":2900,"l4":3600,"h4":5500},
{"t":53.25,"l0":260,"h0":1550,"l1":240,"h1":1450,"l2":740,"h2":2600,"l3":880,"h3":2600,"l4":3150,"h4":5750},
{"t":53.5,"l0":330,"h0":1300,"l1":310,"h1":1200,"l2":820,"h2":2050,"l3":800,"h3":2400,"l4":3450,"h4":5600},
{"t":53.75,"l0":180,"h0":1450,"l1":220,"h1":1350,"l2":520,"h2":2350,"l3":950,"h3":3100,"l4":3000,"h4":6300},
{"t":54,"l0":310,"h0":1800,"l1":280,"h1":1700,"l2":700,"h2":2250,"l3":550,"h3":2550,"l4":3350,"h4":5550},
{"t":54.25,"l0":400,"h0":1350,"l1":250,"h1":1250,"l2":750,"h2":2500,"l3":820,"h3":2650,"l4":3550,"h4":5850},
{"t":54.5,"l0":240,"h0":1200,"l1":300,"h1":1400,"l2":650,"h2":2200,"l3":900,"h3":2450,"l4":3250,"h4":5700},
{"t":54.75,"l0":290,"h0":1500,"l1":200,"h1":1300,"l2":820,"h2":2800,"l3":700,"h3":2800,"l4":3400,"h4":5400},
{"t":55,"l0":150,"h0":1400,"l1":270,"h1":1550,"l2":550,"h2":2300,"l3":860,"h3":2500,"l4":3200,"h4":5950},
{"t":55.25,"l0":350,"h0":1650,"l1":330,"h1":1150,"l2":780,"h2":2400,"l3":600,"h3":2350,"l4":3350,"h4":5700},
{"t":55.5,"l0":270,"h0":1300,"l1":180,"h1":1350,"l2":700,"h2":2150,"l3":780,"h3":2700,"l4":3200,"h4":5500},
{"t":55.75,"l0":300,"h0":1450,"l1":260,"h1":1450,"l2":850,"h2":2450,"l3":850,"h3":2600,"l4":3500,"h4":5900},
{"t":56,"l0":220,"h0":1250,"l1":240,"h1":1250,"l2":450,"h2":2300,"l3":750,"h3":3000,"l4":3100,"h4":5600}
]},
"spacing": 0,
"bounds": "flush",
"vconcat": [
{
 "width": 603, "height": 90,
 "title": {"text": "TH0", "anchor": "end", "frame": "group", "offset": -19, "dx": -6},
 "layer": [
  {"mark": {"type": "area", "color": "#ff0000", "interpolate": "linear", "clip": true},
   "encoding": {
    "x": {"field": "t", "type": "quantitative", "scale": {"domain": [-9.42, 57.4], "nice": false, "zero": false},
      "axis": {"orient": "bottom", "values": [-8,-6,-4,-2,0,2,4,6,8,10,12,14,16,18,20,22,24,26,28,30,32,34,36,38,40,42,44,46,48,50,52,54,56], "labels": false, "title": null, "tickSize": {"condition": {"test": "datum.value % 10 === 0", "value": -6.5}, "value": -3.5}}},
    "y": {"field": "l0", "type": "quantitative", "scale": {"domain": [0, 6000], "nice": false, "zero": false},
      "axis": {"orient": "left", "values": [0,1000,2000,3000,4000,5000], "format": "d", "labelExpr": "datum.value % 2000 === 0 ? datum.label : ''", "labelPadding": 16.5, "title": null, "tickSize": {"condition": {"test": "datum.value % 2000 === 0", "value": -6.5}, "value": -3.5}}},
    "y2": {"field": "h0"}
   }},
  {"mark": {"type": "rule", "strokeOpacity": 0},
   "encoding": {
    "x": {"field": "t", "type": "quantitative", "scale": {"domain": [-9.42, 57.4], "nice": false, "zero": false},
      "axis": {"orient": "top", "values": [-8,-6,-4,-2,0,2,4,6,8,10,12,14,16,18,20,22,24,26,28,30,32,34,36,38,40,42,44,46,48,50,52,54,56], "labels": false, "title": null, "tickSize": {"condition": {"test": "datum.value % 10 === 0", "value": -6.5}, "value": -3.5}}},
    "y": {"field": "l0", "type": "quantitative", "scale": {"domain": [0, 6000], "nice": false, "zero": false},
      "axis": {"orient": "right", "values": [0,1000,2000,3000,4000,5000], "labels": false, "title": null, "tickSize": {"condition": {"test": "datum.value % 2000 === 0", "value": -6.5}, "value": -3.5}}},
    "y2": {"field": "h0"}
   }}
 ],
 "resolve": {"axis": {"x": "independent", "y": "independent"}}
},
{
 "width": 603, "height": 90,
 "title": {"text": "TH1", "anchor": "end", "frame": "group", "offset": -19, "dx": -6},
 "layer": [
  {"mark": {"type": "area", "color": "#00ff00", "interpolate": "linear", "clip": true},
   "encoding": {
    "x": {"field": "t", "type": "quantitative", "scale": {"domain": [-9.42, 57.4], "nice": false, "zero": false},
      "axis": {"orient": "bottom", "values": [-8,-6,-4,-2,0,2,4,6,8,10,12,14,16,18,20,22,24,26,28,30,32,34,36,38,40,42,44,46,48,50,52,54,56], "labels": false, "title": null, "tickSize": {"condition": {"test": "datum.value % 10 === 0", "value": -6.5}, "value": -3.5}}},
    "y": {"field": "l1", "type": "quantitative", "scale": {"domain": [0, 2290], "nice": false, "zero": false},
      "axis": {"orient": "left", "values": [100,200,300,400,500,600,700,800,900,1000,1100,1200,1300,1400,1500,1600,1700,1800,1900,2000,2100,2200], "format": "d", "labelExpr": "datum.value % 500 === 0 ? datum.label : ''", "labelPadding": 16.5, "title": null, "tickSize": {"condition": {"test": "datum.value % 500 === 0", "value": -6.5}, "value": -3.5}}},
    "y2": {"field": "h1"}
   }},
  {"mark": {"type": "rule", "strokeOpacity": 0},
   "encoding": {
    "x": {"field": "t", "type": "quantitative", "scale": {"domain": [-9.42, 57.4], "nice": false, "zero": false},
      "axis": {"orient": "top", "values": [-8,-6,-4,-2,0,2,4,6,8,10,12,14,16,18,20,22,24,26,28,30,32,34,36,38,40,42,44,46,48,50,52,54,56], "labels": false, "title": null, "tickSize": {"condition": {"test": "datum.value % 10 === 0", "value": -6.5}, "value": -3.5}}},
    "y": {"field": "l1", "type": "quantitative", "scale": {"domain": [0, 2290], "nice": false, "zero": false},
      "axis": {"orient": "right", "values": [100,200,300,400,500,600,700,800,900,1000,1100,1200,1300,1400,1500,1600,1700,1800,1900,2000,2100,2200], "labels": false, "title": null, "tickSize": {"condition": {"test": "datum.value % 500 === 0", "value": -6.5}, "value": -3.5}}},
    "y2": {"field": "h1"}
   }}
 ],
 "resolve": {"axis": {"x": "independent", "y": "independent"}}
},
{
 "width": 603, "height": 89,
 "title": {"text": "TH2", "anchor": "end", "frame": "group", "offset": -19, "dx": -6},
 "layer": [
  {"mark": {"type": "area", "color": "#0000ff", "interpolate": "linear", "clip": true},
   "encoding": {
    "x": {"field": "t", "type": "quantitative", "scale": {"domain": [-9.42, 57.4], "nice": false, "zero": false},
      "axis": {"orient": "bottom", "values": [-8,-6,-4,-2,0,2,4,6,8,10,12,14,16,18,20,22,24,26,28,30,32,34,36,38,40,42,44,46,48,50,52,54,56], "labels": false, "title": null, "tickSize": {"condition": {"test": "datum.value % 10 === 0", "value": -6.5}, "value": -3.5}}},
    "y": {"field": "l2", "type": "quantitative", "scale": {"domain": [266, 2820], "nice": false, "zero": false},
      "axis": {"orient": "left", "values": [400,600,800,1000,1200,1400,1600,1800,2000,2200,2400,2600,2800], "format": "d", "labelExpr": "datum.value % 1000 === 0 ? datum.label : ''", "labelPadding": 16.5, "title": "Counts/sec", "titleX": -67, "titleY": 52, "titleAngle": -90, "titleBaseline": "middle", "titleAlign": "center", "tickSize": {"condition": {"test": "datum.value % 1000 === 0", "value": -6.5}, "value": -3.5}}},
    "y2": {"field": "h2"}
   }},
  {"mark": {"type": "rule", "strokeOpacity": 0},
   "encoding": {
    "x": {"field": "t", "type": "quantitative", "scale": {"domain": [-9.42, 57.4], "nice": false, "zero": false},
      "axis": {"orient": "top", "values": [-8,-6,-4,-2,0,2,4,6,8,10,12,14,16,18,20,22,24,26,28,30,32,34,36,38,40,42,44,46,48,50,52,54,56], "labels": false, "title": null, "tickSize": {"condition": {"test": "datum.value % 10 === 0", "value": -6.5}, "value": -3.5}}},
    "y": {"field": "l2", "type": "quantitative", "scale": {"domain": [266, 2820], "nice": false, "zero": false},
      "axis": {"orient": "right", "values": [400,600,800,1000,1200,1400,1600,1800,2000,2200,2400,2600,2800], "labels": false, "title": null, "tickSize": {"condition": {"test": "datum.value % 1000 === 0", "value": -6.5}, "value": -3.5}}},
    "y2": {"field": "h2"}
   }}
 ],
 "resolve": {"axis": {"x": "independent", "y": "independent"}}
},
{
 "width": 603, "height": 90,
 "title": {"text": "TH3", "anchor": "end", "frame": "group", "offset": -19, "dx": -6},
 "layer": [
  {"mark": {"type": "area", "color": "#00ffff", "interpolate": "linear", "clip": true},
   "encoding": {
    "x": {"field": "t", "type": "quantitative", "scale": {"domain": [-9.42, 57.4], "nice": false, "zero": false},
      "axis": {"orient": "bottom", "values": [-8,-6,-4,-2,0,2,4,6,8,10,12,14,16,18,20,22,24,26,28,30,32,34,36,38,40,42,44,46,48,50,52,54,56], "labels": false, "title": null, "tickSize": {"condition": {"test": "datum.value % 10 === 0", "value": -6.5}, "value": -3.5}}},
    "y": {"field": "l3", "type": "quantitative", "scale": {"domain": [440, 3140], "nice": false, "zero": false},
      "axis": {"orient": "left", "values": [600,800,1000,1200,1400,1600,1800,2000,2200,2400,2600,2800,3000], "format": "d", "labelExpr": "datum.value % 1000 === 0 ? datum.label : ''", "labelPadding": 16.5, "title": null, "tickSize": {"condition": {"test": "datum.value % 1000 === 0", "value": -6.5}, "value": -3.5}}},
    "y2": {"field": "h3"}
   }},
  {"mark": {"type": "rule", "strokeOpacity": 0},
   "encoding": {
    "x": {"field": "t", "type": "quantitative", "scale": {"domain": [-9.42, 57.4], "nice": false, "zero": false},
      "axis": {"orient": "top", "values": [-8,-6,-4,-2,0,2,4,6,8,10,12,14,16,18,20,22,24,26,28,30,32,34,36,38,40,42,44,46,48,50,52,54,56], "labels": false, "title": null, "tickSize": {"condition": {"test": "datum.value % 10 === 0", "value": -6.5}, "value": -3.5}}},
    "y": {"field": "l3", "type": "quantitative", "scale": {"domain": [440, 3140], "nice": false, "zero": false},
      "axis": {"orient": "right", "values": [600,800,1000,1200,1400,1600,1800,2000,2200,2400,2600,2800,3000], "labels": false, "title": null, "tickSize": {"condition": {"test": "datum.value % 1000 === 0", "value": -6.5}, "value": -3.5}}},
    "y2": {"field": "h3"}
   }}
 ],
 "resolve": {"axis": {"x": "independent", "y": "independent"}}
},
{
 "width": 603, "height": 90,
 "title": {"text": "TH0123", "anchor": "end", "frame": "group", "offset": -19, "dx": -6},
 "layer": [
  {"mark": {"type": "area", "color": "#ff00ff", "interpolate": "linear", "clip": true},
   "encoding": {
    "x": {"field": "t", "type": "quantitative", "scale": {"domain": [-9.42, 57.4], "nice": false, "zero": false},
      "axis": {"orient": "bottom", "values": [-8,-6,-4,-2,0,2,4,6,8,10,12,14,16,18,20,22,24,26,28,30,32,34,36,38,40,42,44,46,48,50,52,54,56], "format": "d", "labelExpr": "datum.value % 10 === 0 ? datum.label : ''", "labelPadding": 14, "title": "Time [sec] 0 = 2013/12/22 08:35:05.039", "titleX": 291, "titleY": 34, "titleBaseline": "alphabetic", "titleAlign": "center", "tickSize": {"condition": {"test": "datum.value % 10 === 0", "value": -6.5}, "value": -3.5}}},
    "y": {"field": "l4", "type": "quantitative", "scale": {"domain": [2320, 10850], "nice": false, "zero": false},
      "axis": {"orient": "left", "values": [3000,4000,5000,6000,7000,8000,9000,10000], "format": "d", "labelExpr": "datum.value === 10000 ? '10⁴' : (datum.value % 2000 === 0 ? datum.label : '')", "labelPadding": 16.5, "title": null, "tickSize": {"condition": {"test": "datum.value % 2000 === 0", "value": -6.5}, "value": -3.5}}},
    "y2": {"field": "h4"}
   }},
  {"mark": {"type": "rule", "strokeOpacity": 0},
   "encoding": {
    "x": {"field": "t", "type": "quantitative", "scale": {"domain": [-9.42, 57.4], "nice": false, "zero": false},
      "axis": {"orient": "top", "values": [-8,-6,-4,-2,0,2,4,6,8,10,12,14,16,18,20,22,24,26,28,30,32,34,36,38,40,42,44,46,48,50,52,54,56], "labels": false, "title": null, "tickSize": {"condition": {"test": "datum.value % 10 === 0", "value": -6.5}, "value": -3.5}}},
    "y": {"field": "l4", "type": "quantitative", "scale": {"domain": [2320, 10850], "nice": false, "zero": false},
      "axis": {"orient": "right", "values": [3000,4000,5000,6000,7000,8000,9000,10000], "labels": false, "title": null, "tickSize": {"condition": {"test": "datum.value % 2000 === 0", "value": -6.5}, "value": -3.5}}},
    "y2": {"field": "h4"}
   }}
 ],
 "resolve": {"axis": {"x": "independent", "y": "independent"}}
}
]
}
